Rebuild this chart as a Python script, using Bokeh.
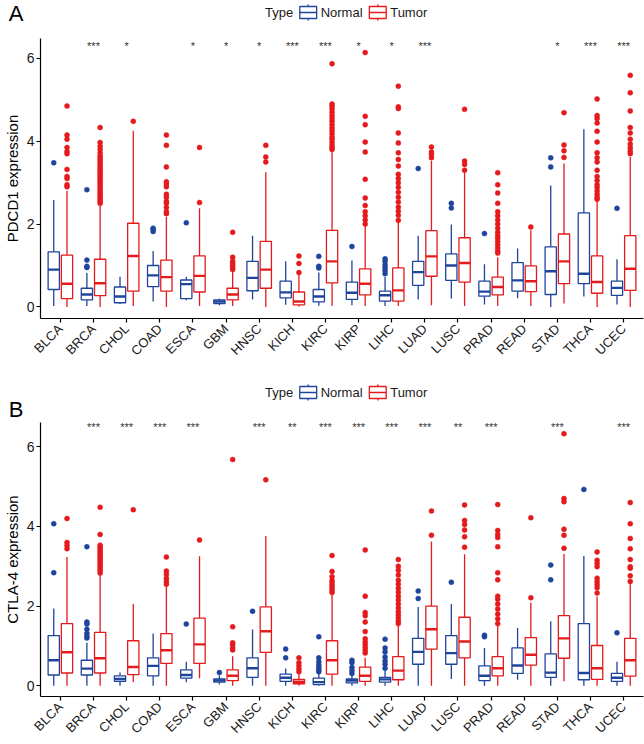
from math import pi
from bokeh.plotting import figure
from bokeh.layouts import column
from bokeh.models import Range1d, FixedTicker
from bokeh.core.properties import value
from bokeh.embed import file_html
from bokeh.resources import INLINE

CATEGORIES = ["BLCA", "BRCA", "CHOL", "COAD", "ESCA", "GBM", "HNSC", "KICH", "KIRC",
              "KIRP", "LIHC", "LUAD", "LUSC", "PRAD", "READ", "STAD", "THCA", "UCEC"]
GROUPS = ["Normal", "Tumor"]

# (lower whisker, Q1, median, Q3, upper whisker)
PD1_NORMAL = [(0.02, 0.42, 0.90, 1.33, 2.58), (0.02, 0.17, 0.30, 0.45, 0.82), (0.07, 0.10, 0.25, 0.48, 0.73),
              (0.13, 0.49, 0.76, 1.00, 1.35), (0.16, 0.20, 0.55, 0.65, 0.73), (0.04, 0.08, 0.13, 0.17, 0.20),
              (0.18, 0.39, 0.70, 1.10, 1.72), (0.05, 0.22, 0.35, 0.62, 1.10), (0.03, 0.12, 0.25, 0.42, 0.83),
              (0.04, 0.18, 0.34, 0.60, 1.12), (0.02, 0.14, 0.28, 0.38, 0.72), (0.18, 0.52, 0.84, 1.10, 1.72),
              (0.20, 0.64, 1.00, 1.28, 1.99), (0.06, 0.26, 0.37, 0.62, 1.03), (0.21, 0.38, 0.64, 1.07, 1.41),
              (0.00, 0.30, 0.86, 1.45, 2.93), (0.25, 0.56, 0.80, 2.27, 4.29), (0.06, 0.28, 0.46, 0.62, 1.15)]
PD1_NORMAL_OUT = [[3.48], [0.95, 0.98, 1.13, 2.83], [], [1.82, 1.87, 1.90], [2.03], [], [], [],
                  [0.94, 0.98, 1.22], [1.46], [0.80, 0.88, 0.95, 1.02, 1.10, 1.16], [3.34], [2.39, 2.50],
                  [1.77], [], [3.38, 3.60], [], [2.38]]
PD1_TUMOR = [(0.00, 0.20, 0.56, 1.25, 2.80), (0.00, 0.27, 0.57, 1.15, 2.45), (0.02, 0.38, 1.23, 2.02, 4.25),
             (0.00, 0.38, 0.72, 1.13, 2.17), (0.02, 0.36, 0.75, 1.23, 2.38), (0.02, 0.17, 0.30, 0.45, 0.87),
             (0.00, 0.45, 0.90, 1.58, 3.25), (0.01, 0.05, 0.13, 0.36, 0.80), (0.02, 0.58, 1.10, 1.85, 3.76),
             (0.02, 0.29, 0.56, 0.92, 1.95), (0.02, 0.14, 0.40, 0.94, 2.05), (0.04, 0.74, 1.22, 1.84, 3.52),
             (0.02, 0.60, 1.06, 1.67, 3.25), (0.02, 0.29, 0.48, 0.72, 1.20), (0.02, 0.37, 0.62, 0.99, 1.85),
             (0.08, 0.56, 1.10, 1.76, 3.46), (0.00, 0.33, 0.60, 1.23, 2.55), (0.00, 0.40, 0.92, 1.72, 3.62)]
PD1_TUMOR_OUT = [
    [2.90, 2.95, 3.10, 3.15, 3.32, 3.70, 3.75, 3.85, 4.05, 4.15, 4.85],
    [2.50, 2.55, 2.60, 2.65, 2.70, 2.75, 2.80, 2.85, 2.90, 2.95, 3.00, 3.05, 3.10, 3.15, 3.20, 3.25,
     3.30, 3.35, 3.40, 3.45, 3.50, 3.55, 3.60, 3.65, 3.72, 3.80, 3.88, 3.97, 4.33],
    [4.48],
    [2.25, 2.30, 2.40, 2.50, 2.55, 2.65, 2.72, 2.90, 2.97, 3.02, 3.38, 3.90, 4.15],
    [2.52, 3.85],
    [0.90, 0.95, 1.00, 1.05, 1.10, 1.20, 1.80],
    [3.50, 3.62, 3.90],
    [0.83, 1.05, 1.23],
    [3.80, 3.85, 3.90, 3.97, 4.05, 4.10, 4.18, 4.25, 4.32, 4.40, 4.48, 4.55, 4.62, 4.70, 4.78, 4.85, 4.90, 5.87],
    [2.00, 2.10, 2.20, 2.30, 2.45, 2.63, 3.08, 3.74, 3.98, 4.40, 4.60, 6.14],
    [2.09, 2.21, 2.31, 2.41, 2.53, 2.65, 2.77, 2.89, 3.00, 3.10, 3.20, 3.40, 3.56, 3.72, 3.96, 4.20, 4.79, 4.83, 5.33],
    [3.60, 3.68, 3.74, 3.86],
    [3.30, 3.44, 3.52, 4.77],
    [1.30, 1.35, 1.42, 1.50, 1.58, 1.65, 1.72, 1.80, 1.90, 2.00, 2.10, 2.20, 2.30, 2.50, 2.75, 2.95, 3.24],
    [1.93],
    [3.61, 3.77, 3.91, 4.69],
    [2.60, 2.65, 2.72, 2.80, 2.88, 2.95, 3.05, 3.15, 3.30, 3.50, 3.60, 3.72, 3.98, 4.24, 4.44, 4.55, 4.62, 5.02],
    [3.70, 3.76, 3.84, 3.93, 4.05, 4.20, 4.33, 4.73, 5.17, 5.59]]
PD1_SIG = ["", "***", "*", "", "*", "*", "*", "***", "***", "*", "*", "***", "", "", "", "*", "***", "***"]

CTLA4_NORMAL = [(0.00, 0.27, 0.64, 1.26, 1.94), (0.00, 0.27, 0.43, 0.64, 1.08), (0.00, 0.11, 0.17, 0.25, 0.33),
                (0.00, 0.25, 0.50, 0.70, 1.31), (0.09, 0.19, 0.27, 0.40, 0.60), (0.03, 0.09, 0.13, 0.17, 0.26),
                (0.00, 0.21, 0.44, 0.70, 1.41), (0.00, 0.11, 0.20, 0.29, 0.43), (0.00, 0.03, 0.09, 0.19, 0.30),
                (0.00, 0.07, 0.13, 0.17, 0.26), (0.00, 0.09, 0.16, 0.21, 0.38), (0.00, 0.54, 0.85, 1.19, 1.98),
                (0.17, 0.54, 0.82, 1.26, 2.05), (0.00, 0.13, 0.25, 0.50, 0.95), (0.15, 0.31, 0.51, 0.95, 1.45),
                (0.00, 0.21, 0.33, 0.80, 1.62), (0.00, 0.15, 0.32, 1.56, 3.26), (0.00, 0.11, 0.20, 0.31, 0.60)]
CTLA4_NORMAL_OUT = [[2.84, 4.07], [1.20, 1.25, 1.32, 1.42, 1.55, 1.60, 3.49], [], [], [1.55], [0.33], [1.87],
                    [0.70, 0.92], [0.35, 0.40, 0.46, 0.52, 0.60, 0.70, 1.23], [0.31, 0.38, 0.46, 0.58, 0.64],
                    [0.44, 0.54, 0.62, 0.72, 0.85, 0.95, 1.17], [2.19, 2.38], [2.60], [1.23, 1.27], [],
                    [2.66, 3.03], [4.93], [1.33]]
CTLA4_TUMOR = [(0.00, 0.32, 0.84, 1.56, 3.23), (0.00, 0.32, 0.69, 1.34, 2.78), (0.09, 0.28, 0.47, 1.13, 2.05),
               (0.00, 0.56, 0.89, 1.31, 2.50), (0.19, 0.56, 1.04, 1.70, 3.25), (0.00, 0.13, 0.25, 0.40, 0.74),
               (0.00, 0.84, 1.37, 1.98, 3.76), (0.00, 0.05, 0.10, 0.16, 0.29), (0.00, 0.29, 0.64, 1.13, 2.28),
               (0.00, 0.11, 0.25, 0.47, 0.70), (0.00, 0.15, 0.38, 0.73, 1.50), (0.00, 0.92, 1.42, 2.00, 3.62),
               (0.00, 0.70, 1.11, 1.72, 3.30), (0.00, 0.25, 0.44, 0.73, 1.52), (0.00, 0.52, 0.78, 1.21, 2.09),
               (0.11, 0.69, 1.19, 1.76, 3.31), (0.00, 0.16, 0.44, 1.01, 2.24), (0.00, 0.24, 0.64, 1.19, 2.60)]
CTLA4_TUMOR_OUT = [
    [3.44, 3.52, 3.60, 4.20],
    [2.83, 2.88, 2.93, 2.98, 3.03, 3.08, 3.13, 3.18, 3.23, 3.28, 3.33, 3.38, 3.43, 3.48, 3.53, 3.80, 4.48],
    [4.42],
    [2.55, 2.62, 2.70, 2.80, 2.88, 3.23],
    [3.66],
    [0.90, 0.95, 1.03, 1.08, 1.48, 5.68],
    [5.17],
    [0.35, 0.42, 0.50, 0.58, 0.70],
    [2.34, 2.40, 2.46, 2.52, 2.58, 2.64, 2.74, 2.87, 3.27],
    [0.82, 0.89, 0.96, 1.03, 1.10, 1.18, 1.36, 1.60, 1.76, 1.84, 2.25, 3.41],
    [1.56, 1.62, 1.70, 1.78, 1.86, 1.95, 2.05, 2.15, 2.25, 2.35, 2.45, 2.55, 2.65, 2.78, 2.90, 3.00, 3.17],
    [3.78, 4.39],
    [3.48, 3.74, 3.91, 4.05, 4.15, 4.54],
    [1.56, 1.68, 1.80, 1.93, 2.05, 2.17, 2.25, 2.66, 2.84, 3.49, 3.72, 3.80, 3.90, 4.55],
    [2.21, 4.22],
    [3.45, 3.78, 3.93, 4.62, 4.70, 6.33],
    [2.33, 2.46, 2.54, 2.62, 2.70, 2.99, 3.07, 3.15, 3.36],
    [2.62, 2.76, 2.95, 2.99, 3.17, 3.44, 3.70, 4.07, 4.60]]
CTLA4_SIG = ["", "***", "***", "***", "***", "", "***", "**", "***", "***", "***", "***", "**", "***", "", "***", "", "***"]

Y_TICKS = [0, 2, 4, 6]

BLUE = "#1F449C"
RED = "#E41A1C"
FONT = value("Liberation Sans")
W = 644
LEFT = 36
RIGHT = 1
OFFSET = 0.2
BOX_W = 0.34


def header(letter, height, item_off, letter_mid):
    # the header frame is aligned with the panel frames (LEFT .. W-RIGHT); data x == page pixel
    h = figure(width=W, height=height, x_range=Range1d(LEFT, W - RIGHT), y_range=Range1d(0, height),
               x_axis_location=None, y_axis_location="left",
               toolbar_location=None, output_backend="svg", min_border=0,
               min_border_left=LEFT, min_border_right=RIGHT, min_border_top=0, min_border_bottom=0)
    h.grid.visible = False
    h.outline_line_color = None
    # panel letter shown as the single label of a bare left axis
    ly = height - letter_mid
    h.yaxis.ticker = FixedTicker(ticks=[ly])
    h.yaxis.major_label_overrides = {ly: letter}
    h.yaxis.axis_line_color = None
    h.yaxis.major_tick_line_color = None
    h.yaxis.minor_tick_line_color = None
    h.yaxis.major_tick_in = 0
    h.yaxis.major_tick_out = 0
    h.yaxis.major_label_standoff = LEFT - 19
    h.yaxis.major_label_text_font = "Liberation Sans"
    h.yaxis.major_label_text_font_size = "22px"
    h.yaxis.major_label_text_color = "black"

    yl = height - item_off
    h.text(x=[262], y=[yl], text=["Type"], text_font=FONT, text_font_size="13px",
           text_baseline="middle", text_align="left", text_color="#1a1a1a")
    for x0, name, col in ((297, GROUPS[0], BLUE), (367, GROUPS[1], RED)):
        h.segment(x0=[x0 + 8.5], y0=[yl - 8], x1=[x0 + 8.5], y1=[yl + 8], line_color=col, line_width=1.3)
        h.quad(left=[x0], right=[x0 + 17], bottom=[yl - 6], top=[yl + 6], fill_color="white",
               line_color=col, line_width=1.3)
        h.segment(x0=[x0], y0=[yl], x1=[x0 + 17], y1=[yl], line_color=col, line_width=1.3)
        h.text(x=[x0 + 21], y=[yl], text=[name], text_font=FONT, text_font_size="13px",
               text_baseline="middle", text_align="left", text_color="#1a1a1a")
    return h


def panel(normal, tumor, n_out, t_out, sig, ylabel, y0, y1, star_y, frame_h, bottom):
    p = figure(width=W, height=frame_h + bottom, x_range=Range1d(0.4, 18.6), y_range=Range1d(y0, y1),
               toolbar_location=None, output_backend="svg", min_border_left=LEFT, min_border_right=RIGHT,
               min_border_top=0, min_border_bottom=bottom)
    p.grid.visible = False
    p.outline_line_color = None
    p.background_fill_color = "white"
    idx = list(range(1, len(CATEGORIES) + 1))
    for stats, outs, col, off in ((normal, n_out, BLUE, -OFFSET), (tumor, t_out, RED, OFFSET)):
        xs = [i + off for i in idx]
        lw = [s[0] for s in stats]
        q1 = [s[1] for s in stats]
        md = [s[2] for s in stats]
        q3 = [s[3] for s in stats]
        uw = [s[4] for s in stats]
        p.segment(x0=xs, y0=q3, x1=xs, y1=uw, line_color=col, line_width=1.3)
        p.segment(x0=xs, y0=q1, x1=xs, y1=lw, line_color=col, line_width=1.3)
        p.vbar(x=xs, width=BOX_W, bottom=q1, top=q3, fill_color="white", line_color=col, line_width=1.3)
        p.segment(x0=[x - BOX_W / 2 for x in xs], y0=md, x1=[x + BOX_W / 2 for x in xs], y1=md,
                  line_color=col, line_width=2.4)
        ox, oy = [], []
        for x, o in zip(xs, outs):
            ox.extend([x] * len(o))
            oy.extend(o)
        p.scatter(x=ox, y=oy, size=5, fill_color=col, line_color=col, line_width=0.5)
    p.text(x=idx, y=[star_y] * len(idx), text=sig, text_font=FONT, text_font_size="11px",
           text_align="center", text_baseline="middle", text_color="#333333")

    p.xaxis.ticker = FixedTicker(ticks=idx)
    p.xaxis.major_label_overrides = {i: c for i, c in zip(idx, CATEGORIES)}
    p.xaxis.major_label_orientation = pi / 4
    p.yaxis.ticker = FixedTicker(ticks=Y_TICKS)
    p.yaxis.axis_label = ylabel
    for ax in (p.xaxis, p.yaxis):
        ax.axis_line_color = "black"
        ax.axis_line_width = 1.2
        ax.major_tick_line_color = "black"
        ax.major_tick_line_width = 1.2
        ax.major_tick_in = 0
        ax.major_tick_out = 4
        ax.minor_tick_line_color = None
        ax.major_label_text_font = "Liberation Sans"
        ax.major_label_text_color = "#1a1a1a"
        ax.major_label_standoff = 2
    p.xaxis.major_label_standoff = 4
    p.xaxis.major_label_text_font_size = "13px"
    p.yaxis.major_label_text_font_size = "14px"
    p.yaxis.axis_label_text_font = "Liberation Sans"
    p.yaxis.axis_label_text_font_size = "15px"
    p.yaxis.axis_label_text_font_style = "normal"
    p.yaxis.axis_label_text_color = "black"
    p.yaxis.axis_label_standoff = 3
    return p


head_a = header("A", 38, 12, 13)
fig_a = panel(PD1_NORMAL, PD1_TUMOR, PD1_NORMAL_OUT, PD1_TUMOR_OUT, PD1_SIG, "PDCD1 expression",
              -0.28, 6.48, 6.30, 284, 44)
head_b = header("B", 56, 26, 44)
fig_b = panel(CTLA4_NORMAL, CTLA4_TUMOR, CTLA4_NORMAL_OUT, CTLA4_TUMOR_OUT, CTLA4_SIG, "CTLA-4 expression",
              -0.27, 6.61, 6.50, 281, 41)

layout = column(head_a, fig_a, head_b, fig_b, spacing=0)
open("out.html", "w").write(file_html(layout, INLINE))
